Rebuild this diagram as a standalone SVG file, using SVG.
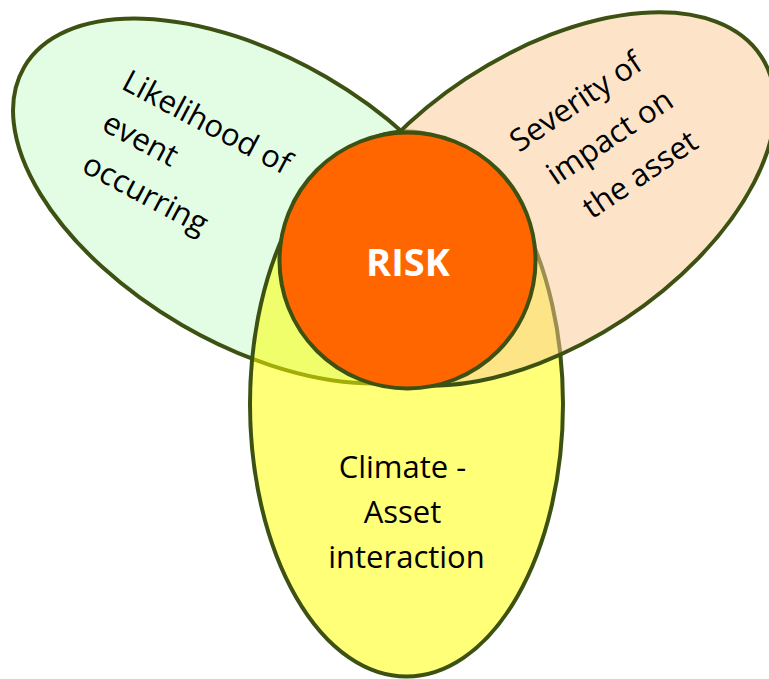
<svg xmlns="http://www.w3.org/2000/svg" width="769" height="679" viewBox="0 0 769 679">
  <style>
    .shape { stroke: #3d5212; stroke-width: 4; }
    .label { font-family: "Open Sans", "Noto Sans", sans-serif; font-size: 31px; fill: #000; }
    .risk { font-family: "Open Sans", "Noto Sans", sans-serif; font-size: 38px; font-weight: bold; fill: #fff; text-anchor: middle; }
  </style>
  <rect width="769" height="679" fill="#ffffff"/>

  <!-- Likelihood (bottom layer) -->
  <g id="likelihood">
    <ellipse class="shape" cx="0" cy="0" rx="266" ry="143.5" fill="#e2fde4" transform="translate(254,201) rotate(30.2)"/>
  </g>

  <!-- Climate - asset interaction, translucent over likelihood -->
  <g id="interaction">
    <ellipse class="shape" cx="406.5" cy="404" rx="156.5" ry="272.5" fill="#ffff00" fill-opacity="0.53"/>
  </g>

  <!-- Severity, translucent over interaction -->
  <g id="severity">
    <ellipse class="shape" cx="0" cy="0" rx="259" ry="144" fill="#fbc993" fill-opacity="0.5" transform="translate(545,199) rotate(-33.5)"/>
  </g>

  <!-- Risk core -->
  <g id="risk">
    <circle class="shape" cx="407.5" cy="260.5" r="128" fill="#ff6600"/>
    <text class="risk" x="408" y="276">RISK</text>
  </g>

  <!-- Labels -->
  <g id="likelihood-label">
    <text class="label" transform="translate(120,88) rotate(28)">
      <tspan x="0" y="0">Likelihood of</tspan>
      <tspan x="2" y="46">event</tspan>
      <tspan x="4" y="92">occurring</tspan>
    </text>
  </g>
  <g id="severity-label">
    <text class="label" transform="translate(519,153) rotate(-34)">
      <tspan x="0" y="0">Severity of</tspan>
      <tspan x="12" y="48">impact on</tspan>
      <tspan x="23" y="96">the asset</tspan>
    </text>
  </g>
  <g id="interaction-label">
    <text class="label" text-anchor="middle" font-size="32">
      <tspan x="406.5" y="478">Climate -</tspan>
      <tspan x="406.5" y="523">Asset</tspan>
      <tspan x="406.5" y="568">interaction</tspan>
    </text>
  </g>
</svg>
